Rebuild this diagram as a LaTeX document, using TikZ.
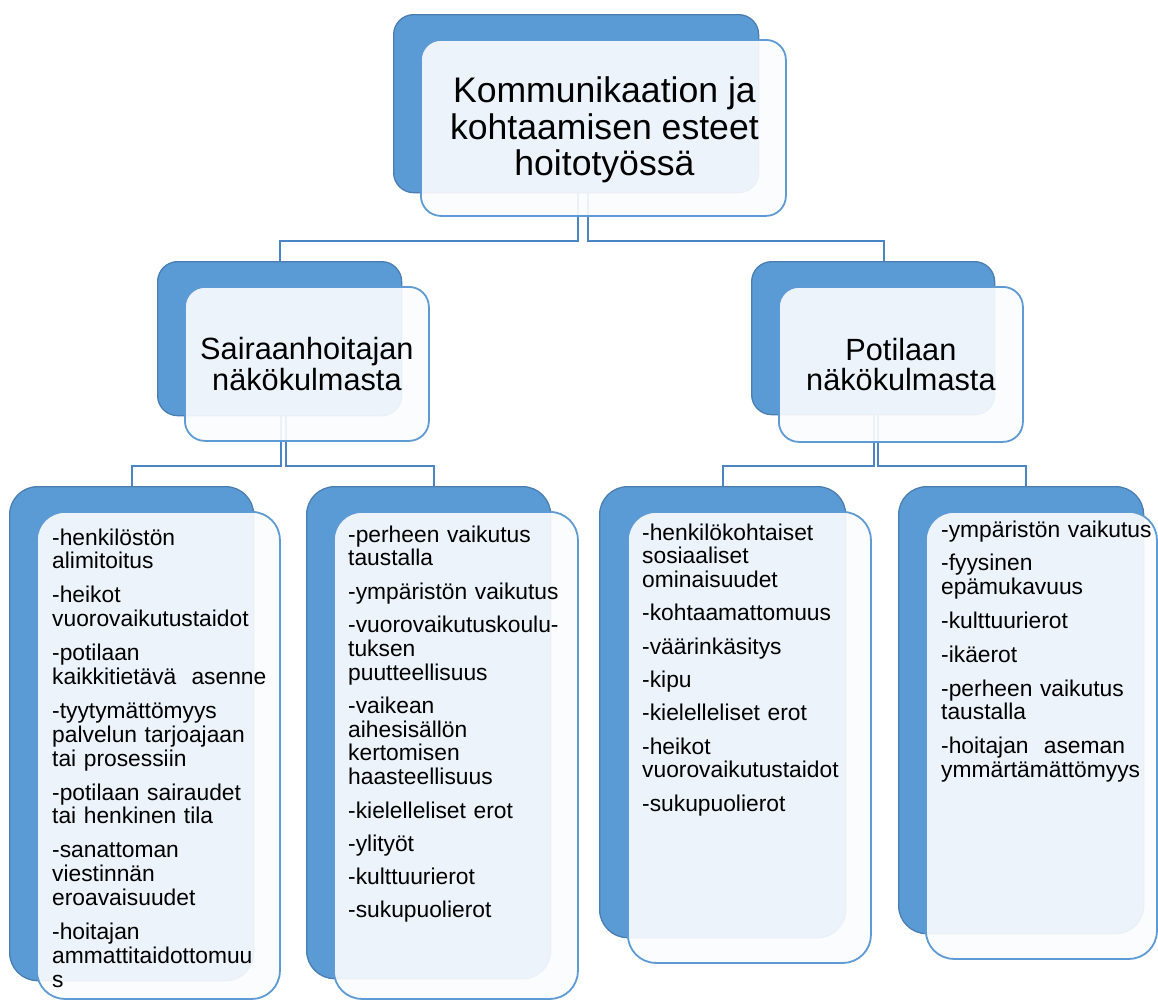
\documentclass[tikz,border=0pt]{standalone}
\usepackage{fontspec}
\setmainfont{Liberation Sans}
\definecolor{darkblue}{HTML}{5B9BD5}
\definecolor{darkedge}{HTML}{4A7EB0}
\definecolor{lightedge}{HTML}{5E9AD3}
\definecolor{connblue}{HTML}{4A86C6}
\definecolor{lightfill}{HTML}{FBFCFE}
\tikzset{
  darkbox/.style={draw=darkedge, line width=1.3pt, fill=darkblue, rounded corners=#1,
    inner sep=0pt, anchor=north west},
  lightbox/.style={draw=lightedge, line width=1.8pt, fill=lightfill, fill opacity=0.91,
    rounded corners=#1, inner sep=0pt, anchor=north west},
  conn/.style={draw=connblue, line width=2pt},
  titletext/.style={align=center, inner sep=0pt, font=\fontsize{35.6}{36.5}\selectfont},
  midtext/.style={align=center, inner sep=0pt, font=\fontsize{30.7}{30.5}\selectfont},
  leaftext/.style={align=left, text width=240pt, inner sep=0pt, anchor=base west,
    font=\fontsize{22.8}{23.8}\selectfont},
}
\begin{document}
\begin{tikzpicture}[x=1pt,y=-1pt]
\useasboundingbox (0,0) rectangle (1158,999);

% dark boxes (nodes)
\node[darkbox=20pt, minimum width=365pt, minimum height=178pt] (td) at (393,14) {};
\node[darkbox=20pt, minimum width=244pt, minimum height=154pt] (ad) at (157,261) {};
\node[darkbox=20pt, minimum width=243pt, minimum height=153pt] (bd) at (751,261) {};
\node[darkbox=28pt, minimum width=244pt, minimum height=494pt] (l1d) at (9,486) {};
\node[darkbox=28pt, minimum width=244pt, minimum height=492pt] (l2d) at (306,486) {};
\node[darkbox=28pt, minimum width=246pt, minimum height=451pt] (l3d) at (599,486) {};
\node[darkbox=28pt, minimum width=245pt, minimum height=447pt] (l4d) at (898,486) {};

% connectors
\draw[conn] ([xshift=1.5pt]td.south) -- ++(0,48) -| (ad.north);
\draw[conn] ([xshift=11.5pt]td.south) -- ++(0,48) -| ([xshift=10.5pt]bd.north);
\draw[conn] ([xshift=1pt]ad.south) -- ++(0,50) -| (l1d.north);
\draw[conn] ([xshift=6pt]ad.south) -- ++(0,50) -| ([xshift=5pt]l2d.north);
\draw[conn] ([xshift=0.5pt]bd.south) -- ++(0,51) -| (l3d.north);
\draw[conn] ([xshift=4.5pt]bd.south) -- ++(0,51) -| ([xshift=4.5pt]l4d.north);

% light boxes
\node[lightbox=20pt, minimum width=365pt, minimum height=176pt] (tl) at (420,39) {};
\node[lightbox=20pt, minimum width=244pt, minimum height=154pt] (al) at (184,286) {};
\node[lightbox=20pt, minimum width=244pt, minimum height=155pt] (bl) at (778,286) {};
\node[lightbox=28pt, minimum width=243pt, minimum height=487pt] (l1l) at (36,511) {};
\node[lightbox=28pt, minimum width=244pt, minimum height=487pt] (l2l) at (333,511) {};
\node[lightbox=28pt, minimum width=243pt, minimum height=451pt] (l3l) at (627,511) {};
\node[lightbox=28pt, minimum width=231pt, minimum height=447pt] (l4l) at (925,511) {};

% texts
\node[titletext] (tt) at ([xshift=1pt,yshift=-2pt]tl.center)
  {Kommunikaation ja\\kohtaamisen esteet\\hoitotyössä};
\node[midtext] (at) at (al.center) {Sairaanhoitajan\\näkökulmasta};
\node[midtext] (bt) at (bl.center) {Potilaan\\näkökulmasta};

\node[leaftext] (t1) at ([xshift=16pt,yshift=-34pt]l1l.north west)
  {-henkilöstön\\alimitoitus\\[10.2pt]-heikot\\vuorovaikutustaidot\\[10.2pt]-potilaan\\kaikkitietävä\ \ asenne\\[10.2pt]-tyytymättömyys\\palvelun tarjoajaan\\tai prosessiin\\[10.2pt]-potilaan sairaudet\\tai henkinen tila\\[10.2pt]-sanattoman\\viestinnän\\eroavaisuudet\\[10.2pt]-hoitajan\\ammattitaidottomuu\\s};
\node[leaftext] (t2) at ([xshift=15pt,yshift=-31pt]l2l.north west)
  {-perheen vaikutus\\taustalla\\[9.5pt]-ympäristön vaikutus\\[9.5pt]-vuorovaikutuskoulu-\\tuksen\\puutteellisuus\\[9.5pt]-vaikean\\aihesisällön\\kertomisen\\haasteellisuus\\[9.5pt]-kielelleliset erot\\[9.5pt]-ylityöt\\[9.5pt]-kulttuurierot\\[9.5pt]-sukupuolierot};
\node[leaftext] (t3) at ([xshift=15pt,yshift=-29pt]l3l.north west)
  {-henkilökohtaiset\\sosiaaliset\\ominaisuudet\\[9.5pt]-kohtaamattomuus\\[9.5pt]-väärinkäsitys\\[9.5pt]-kipu\\[9.5pt]-kielelleliset erot\\[9.5pt]-heikot\\vuorovaikutustaidot\\[9.5pt]-sukupuolierot};
\node[leaftext] (t4) at ([xshift=16pt,yshift=-26pt]l4l.north west)
  {-ympäristön vaikutus\\[10pt]-fyysinen\\epämukavuus\\[10pt]-kulttuurierot\\[10pt]-ikäerot\\[10pt]-perheen vaikutus\\taustalla\\[10pt]-hoitajan\ \ aseman\\ymmärtämättömyys};
\end{tikzpicture}
\end{document}
